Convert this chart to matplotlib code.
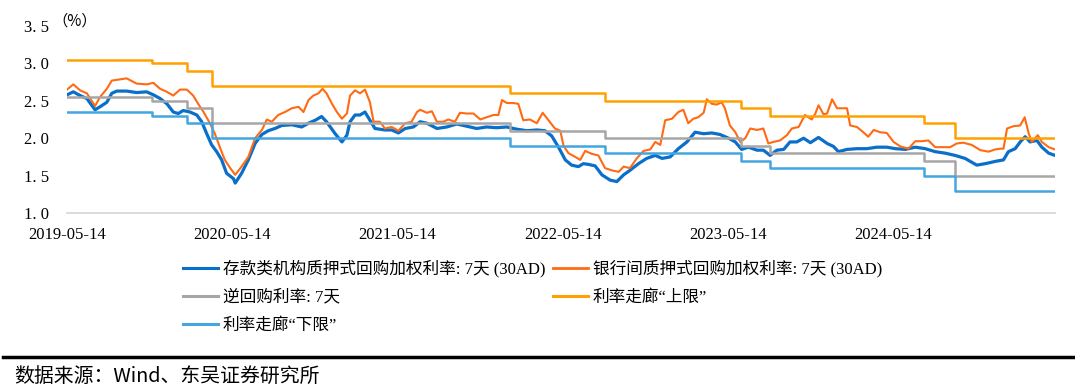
import matplotlib.pyplot as plt
from matplotlib.lines import Line2D
import pandas as pd

plt.rcParams["font.family"] = ["Liberation Serif", "Noto Sans CJK SC"]

# 存款类机构质押式回购加权利率:7天(30AD)
dr_dates = [
    "2019-05-14", "2019-05-28", "2019-06-12", "2019-06-27", "2019-07-15", "2019-07-26",
    "2019-08-10", "2019-08-21", "2019-09-01", "2019-09-23", "2019-10-15", "2019-11-06",
    "2019-11-21", "2019-12-06", "2019-12-21", "2020-01-04", "2020-01-15", "2020-01-26",
    "2020-02-10", "2020-02-25", "2020-03-07", "2020-03-18", "2020-03-29", "2020-04-09",
    "2020-04-20", "2020-05-01", "2020-05-16", "2020-05-20", "2020-06-03", "2020-06-18",
    "2020-07-03", "2020-07-18", "2020-08-01", "2020-08-16", "2020-08-31", "2020-09-22",
    "2020-10-14", "2020-10-29", "2020-11-13", "2020-11-27", "2020-12-08", "2020-12-27",
    "2021-01-11", "2021-01-22", "2021-01-29", "2021-02-09", "2021-02-20", "2021-03-03",
    "2021-03-14", "2021-03-25", "2021-04-16", "2021-05-01", "2021-05-16", "2021-05-31",
    "2021-06-18", "2021-07-03", "2021-07-18", "2021-08-09", "2021-08-31", "2021-09-22",
    "2021-10-14", "2021-11-05", "2021-11-27", "2021-12-19", "2022-01-11", "2022-02-02",
    "2022-02-24", "2022-03-18", "2022-04-05", "2022-04-20", "2022-05-05", "2022-05-20",
    "2022-06-03", "2022-06-18", "2022-06-29", "2022-07-10", "2022-07-25", "2022-08-09",
    "2022-08-27", "2022-09-11", "2022-09-26", "2022-10-10", "2022-10-29", "2022-11-16",
    "2022-12-05", "2022-12-20", "2023-01-07", "2023-01-25", "2023-02-13", "2023-03-03",
    "2023-03-22", "2023-04-09", "2023-04-27", "2023-05-16", "2023-05-31", "2023-06-14",
    "2023-06-29", "2023-07-18", "2023-08-01", "2023-08-16", "2023-08-31", "2023-09-15",
    "2023-09-29", "2023-10-14", "2023-10-29", "2023-11-13", "2023-12-01", "2023-12-20",
    "2024-01-03", "2024-01-14", "2024-02-02", "2024-02-24", "2024-03-17", "2024-04-08",
    "2024-04-30", "2024-05-19", "2024-06-10", "2024-07-02", "2024-07-24", "2024-08-15",
    "2024-09-06", "2024-09-28", "2024-10-20", "2024-11-15", "2024-12-04", "2024-12-26",
    "2025-01-13", "2025-01-24", "2025-02-08", "2025-02-19", "2025-03-02", "2025-03-13",
    "2025-03-28", "2025-04-08", "2025-04-23", "2025-05-07",
]
dr_values = [
    2.58, 2.62, 2.57, 2.53, 2.38, 2.42,
    2.48, 2.60, 2.63, 2.63, 2.61, 2.62,
    2.58, 2.53, 2.46, 2.35, 2.33, 2.37,
    2.35, 2.31, 2.22, 2.06, 1.91, 1.82,
    1.71, 1.53, 1.46, 1.40, 1.53, 1.71,
    1.93, 2.05, 2.10, 2.13, 2.17, 2.18,
    2.15, 2.20, 2.24, 2.29, 2.22, 2.06,
    1.95, 2.04, 2.22, 2.31, 2.31, 2.35,
    2.24, 2.13, 2.11, 2.11, 2.07, 2.13,
    2.15, 2.22, 2.20, 2.13, 2.15, 2.19,
    2.16, 2.13, 2.15, 2.14, 2.15, 2.12,
    2.10, 2.11, 2.10, 2.03, 1.88, 1.71,
    1.64, 1.62, 1.66, 1.65, 1.63, 1.51,
    1.44, 1.42, 1.51, 1.57, 1.66, 1.73,
    1.77, 1.73, 1.75, 1.86, 1.95, 2.08,
    2.06, 2.07, 2.05, 2.00, 1.95, 1.85,
    1.88, 1.84, 1.84, 1.77, 1.84, 1.85,
    1.95, 1.95, 2.00, 1.94, 2.01, 1.93,
    1.89, 1.82, 1.85, 1.86, 1.86, 1.88,
    1.88, 1.86, 1.85, 1.88, 1.86, 1.82,
    1.80, 1.77, 1.73, 1.64, 1.66, 1.69,
    1.71, 1.82, 1.86, 1.95, 2.02, 1.95,
    1.97, 1.88, 1.80, 1.77,
]

# 银行间质押式回购加权利率:7天(30AD)
r_dates = [
    "2019-05-14", "2019-05-28", "2019-06-12", "2019-06-27", "2019-07-15", "2019-07-26",
    "2019-08-10", "2019-08-21", "2019-09-01", "2019-09-23", "2019-10-15", "2019-11-06",
    "2019-11-21", "2019-12-06", "2019-12-21", "2020-01-04", "2020-01-19", "2020-02-03",
    "2020-02-17", "2020-02-28", "2020-03-11", "2020-03-25", "2020-04-05", "2020-04-16",
    "2020-04-27", "2020-05-09", "2020-05-20", "2020-06-03", "2020-06-18", "2020-07-03",
    "2020-07-18", "2020-07-29", "2020-08-09", "2020-08-23", "2020-09-07", "2020-09-22",
    "2020-10-07", "2020-10-18", "2020-10-29", "2020-11-09", "2020-11-20", "2020-11-29",
    "2020-12-08", "2020-12-20", "2020-12-31", "2021-01-11", "2021-01-22", "2021-01-29",
    "2021-02-09", "2021-02-20", "2021-03-03", "2021-03-14", "2021-03-22", "2021-04-05",
    "2021-04-16", "2021-05-01", "2021-05-16", "2021-05-31", "2021-06-14", "2021-06-26",
    "2021-07-03", "2021-07-18", "2021-07-29", "2021-08-09", "2021-08-23", "2021-09-03",
    "2021-09-18", "2021-09-29", "2021-10-14", "2021-10-29", "2021-11-13", "2021-11-27",
    "2021-12-12", "2021-12-23", "2021-12-31", "2022-01-11", "2022-01-25", "2022-02-05",
    "2022-02-16", "2022-03-03", "2022-03-18", "2022-03-31", "2022-04-13", "2022-04-27",
    "2022-05-09", "2022-05-16", "2022-05-27", "2022-06-11", "2022-06-22", "2022-07-03",
    "2022-07-18", "2022-08-01", "2022-08-16", "2022-08-31", "2022-09-15", "2022-09-26",
    "2022-10-10", "2022-10-25", "2022-11-09", "2022-11-24", "2022-12-05", "2022-12-16",
    "2022-12-27", "2023-01-11", "2023-01-25", "2023-02-05", "2023-02-16", "2023-02-27",
    "2023-03-10", "2023-03-22", "2023-03-29", "2023-04-09", "2023-04-20", "2023-05-01",
    "2023-05-08", "2023-05-19", "2023-05-31", "2023-06-11", "2023-06-22", "2023-07-03",
    "2023-07-18", "2023-08-01", "2023-08-12", "2023-08-23", "2023-09-07", "2023-09-22",
    "2023-10-03", "2023-10-18", "2023-11-01", "2023-11-16", "2023-11-24", "2023-12-01",
    "2023-12-12", "2023-12-20", "2023-12-31", "2024-01-11", "2024-02-02", "2024-02-09",
    "2024-02-24", "2024-03-09", "2024-03-20", "2024-04-01", "2024-04-15", "2024-04-30",
    "2024-05-15", "2024-05-30", "2024-06-17", "2024-07-02", "2024-07-17", "2024-07-31",
    "2024-08-15", "2024-08-30", "2024-09-17", "2024-10-02", "2024-10-16", "2024-11-04",
    "2024-11-23", "2024-12-11", "2024-12-26", "2025-01-06", "2025-01-13", "2025-01-21",
    "2025-02-04", "2025-02-19", "2025-03-01", "2025-03-10", "2025-03-17", "2025-03-30",
    "2025-04-08", "2025-04-23", "2025-05-07",
]
r_values = [
    2.65, 2.72, 2.64, 2.60, 2.43, 2.55,
    2.66, 2.77, 2.78, 2.80, 2.73, 2.72,
    2.74, 2.66, 2.62, 2.57, 2.65, 2.65,
    2.57, 2.46, 2.35, 2.20, 2.06, 1.88,
    1.71, 1.60, 1.51, 1.62, 1.75, 2.00,
    2.11, 2.25, 2.22, 2.31, 2.35, 2.40,
    2.42, 2.35, 2.51, 2.57, 2.60, 2.66,
    2.60, 2.46, 2.35, 2.26, 2.33, 2.57,
    2.64, 2.60, 2.65, 2.48, 2.22, 2.22,
    2.13, 2.15, 2.10, 2.20, 2.22, 2.35,
    2.38, 2.34, 2.36, 2.22, 2.22, 2.25,
    2.22, 2.34, 2.33, 2.33, 2.25, 2.28,
    2.31, 2.31, 2.51, 2.47, 2.47, 2.46,
    2.24, 2.25, 2.20, 2.34, 2.24, 2.13,
    2.10, 1.90, 1.80, 1.75, 1.71, 1.83,
    1.79, 1.77, 1.60, 1.57, 1.55, 1.62,
    1.60, 1.73, 1.83, 1.85, 1.95, 1.91,
    2.24, 2.26, 2.35, 2.38, 2.20, 2.26,
    2.28, 2.34, 2.52, 2.46, 2.45, 2.48,
    2.40, 2.17, 2.08, 1.95, 2.00, 2.13,
    2.11, 2.13, 1.93, 1.95, 1.97, 2.04,
    2.13, 2.15, 2.31, 2.25, 2.33, 2.44,
    2.32, 2.33, 2.52, 2.40, 2.40, 2.17,
    2.15, 2.08, 2.02, 2.11, 2.08, 2.07,
    1.95, 1.89, 1.86, 1.96, 1.96, 1.97,
    1.88, 1.88, 1.88, 1.93, 1.94, 1.91,
    1.84, 1.82, 1.85, 1.86, 1.86, 2.13,
    2.16, 2.17, 2.28, 2.06, 1.95, 2.04,
    1.95, 1.88, 1.85,
]

# policy rates (step lines)
policy_dates = [
    "2019-05-14", "2019-11-18", "2020-02-03", "2020-03-30", "2022-01-17",
    "2022-08-15", "2023-06-13", "2023-08-15", "2024-07-22", "2024-09-27", "2025-05-07",
]
reverse_repo = [2.55, 2.50, 2.40, 2.20, 2.10, 2.00, 1.90, 1.80, 1.70, 1.50, 1.50]
corridor_upper = [3.05, 3.00, 2.90, 2.70, 2.60, 2.50, 2.40, 2.30, 2.20, 2.00, 2.00]
corridor_lower = [2.35, 2.30, 2.20, 2.00, 1.90, 1.80, 1.70, 1.60, 1.50, 1.30, 1.30]

x_ticks = ["2019-05-14", "2020-05-14", "2021-05-14", "2022-05-14", "2023-05-14", "2024-05-14"]
y_ticks = [1.0, 1.5, 2.0, 2.5, 3.0, 3.5]
y_tick_labels = ["1. 0", "1. 5", "2. 0", "2. 5", "3. 0", "3. 5"]

labels = [
    "存款类机构质押式回购加权利率: 7天 (30AD)",
    "银行间质押式回购加权利率: 7天 (30AD)",
    "逆回购利率: 7天",
    "利率走廊“上限”",
    "利率走廊“下限”",
]
c_dr = "#0A6FC9"
c_r = "#FF6A13"
c_rr = "#A6A6A6"
c_up = "#FFA100"
c_low = "#45A5E0"

fig = plt.figure(figsize=(10.75, 3.87), dpi=100)
ax = fig.add_axes([67 / 1075, 1 - 213 / 387, (1055 - 67) / 1075, (213 - 26) / 387])

pd_dates = pd.to_datetime(policy_dates)
ax.plot(pd.to_datetime(dr_dates), dr_values, color=c_dr, lw=2.3, zorder=3)
ax.plot(pd.to_datetime(r_dates), r_values, color=c_r, lw=1.5, zorder=3)
ax.plot(pd_dates, reverse_repo, color=c_rr, lw=1.8, drawstyle="steps-post", zorder=4)
ax.plot(pd_dates, corridor_upper, color=c_up, lw=1.8, drawstyle="steps-post", zorder=4)
ax.plot(pd_dates, corridor_lower, color=c_low, lw=1.8, drawstyle="steps-post", zorder=4)

ax.set_xlim(pd.Timestamp("2019-05-14"), pd.Timestamp("2025-05-07"))
ax.set_ylim(1.0, 3.5)
ax.set_yticks(y_ticks)
ax.set_yticklabels(y_tick_labels)
ax.set_xticks(pd.to_datetime(x_ticks))
ax.set_xticklabels(x_ticks)
ax.tick_params(axis="both", length=0, labelsize=12)
ax.tick_params(axis="x", pad=10)
ax.tick_params(axis="y", pad=13)
for side in ["top", "right", "left"]:
    ax.spines[side].set_visible(False)
ax.spines["bottom"].set_color("#D9D9D9")
ax.spines["bottom"].set_linewidth(1.3)

fig.text(52 / 1075, 1 - 21 / 387, "（%）", fontsize=11, va="center", ha="left",
         family=["Noto Sans CJK SC", "Liberation Serif"])

handles = [
    Line2D([], [], color=c_dr, lw=2.2),
    Line2D([], [], color=c_rr, lw=2.2),
    Line2D([], [], color=c_low, lw=2.2),
    Line2D([], [], color=c_r, lw=2.0),
    Line2D([], [], color=c_up, lw=2.2),
]
order = [0, 2, 4, 1, 3]
fig.legend(handles, [labels[i] for i in order], loc="upper left",
           bbox_to_anchor=(183 / 1075, 1 - 260 / 387), ncol=2, frameon=False,
           fontsize=12, handlelength=2.1, handletextpad=0.3, columnspacing=0.45,
           labelspacing=0.72, borderpad=0, borderaxespad=0)

fig.add_artist(Line2D([3 / 1075, 1.0], [1 - 357 / 387, 1 - 357 / 387],
                      color="black", lw=2.5, transform=fig.transFigure))
fig.text(14 / 1075, 1 - 376 / 387, "数据来源：Wind、东吴证券研究所", fontsize=14.3,
         va="center", ha="left", family=["Noto Sans CJK SC", "Liberation Serif"])

fig.savefig("out.png", dpi=100)
